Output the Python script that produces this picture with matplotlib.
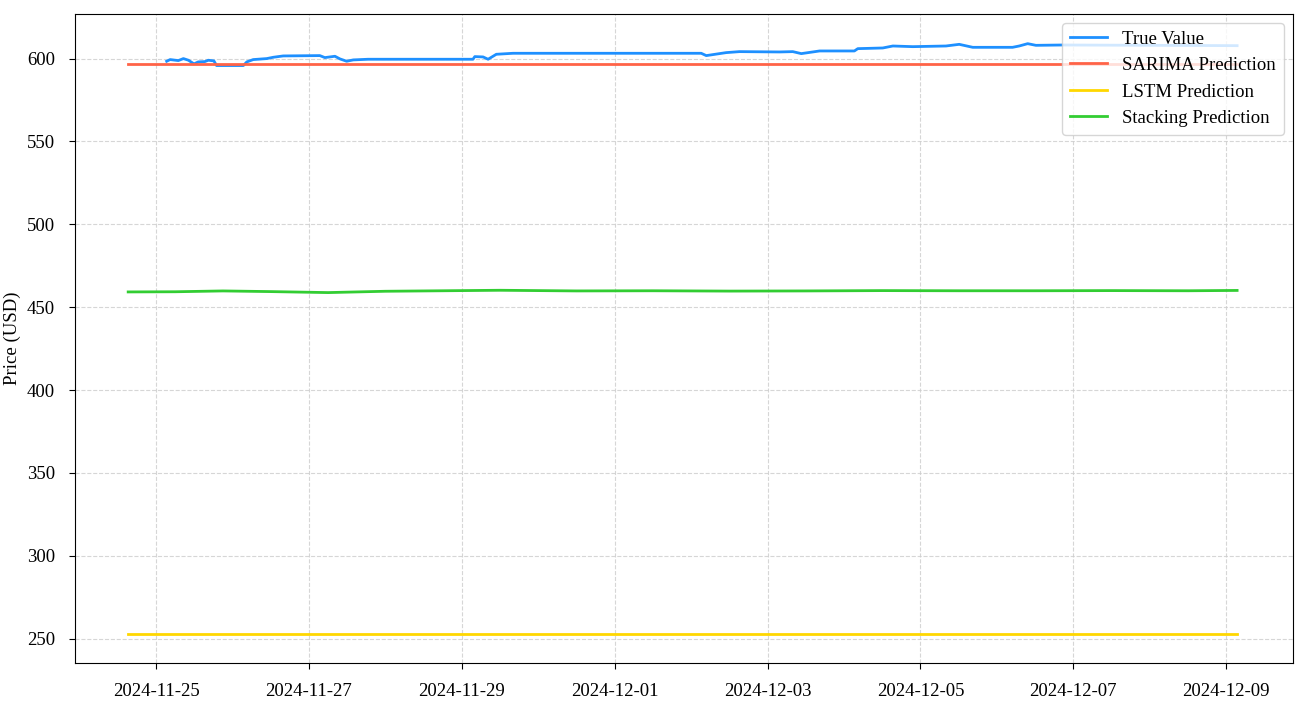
import pandas as pd
import matplotlib.pyplot as plt
import matplotlib.dates as mdates

plt.rcParams['font.family'] = ['Liberation Serif', 'DejaVu Serif']
plt.rcParams['font.size'] = 13.5

# true price
true_times = [
    "2024-11-25 03:20", "2024-11-25 04:25", "2024-11-25 07:00", "2024-11-25 08:35",
    "2024-11-25 10:10", "2024-11-25 11:55", "2024-11-25 13:15", "2024-11-25 15:20",
    "2024-11-25 16:25", "2024-11-25 18:10", "2024-11-25 19:00", "2024-11-26 03:25",
    "2024-11-26 04:30", "2024-11-26 06:30", "2024-11-26 10:45", "2024-11-26 12:50",
    "2024-11-26 15:55", "2024-11-27 03:25", "2024-11-27 05:00", "2024-11-27 08:10",
    "2024-11-27 09:45", "2024-11-27 11:50", "2024-11-27 13:55", "2024-11-27 18:35",
    "2024-11-29 03:30", "2024-11-29 04:05", "2024-11-29 06:40", "2024-11-29 08:15",
    "2024-11-29 10:50", "2024-11-29 16:05", "2024-12-02 03:10", "2024-12-02 04:45",
    "2024-12-02 11:00", "2024-12-02 15:10", "2024-12-03 03:45", "2024-12-03 07:55",
    "2024-12-03 10:35", "2024-12-03 16:20", "2024-12-04 03:15", "2024-12-04 04:20",
    "2024-12-04 12:10", "2024-12-04 15:20", "2024-12-04 21:35", "2024-12-05 08:00",
    "2024-12-05 12:10", "2024-12-05 16:25", "2024-12-06 04:55", "2024-12-06 07:00",
    "2024-12-06 09:40", "2024-12-06 12:15", "2024-12-06 20:35", "2024-12-09 03:25",
]
true_vals = [
    598.4, 599.4, 598.8, 600.0, 599.0, 596.8, 598.0, 598.2,
    599.0, 598.6, 595.8, 595.8, 598.0, 599.4, 600.0, 600.8,
    601.6, 601.8, 600.6, 601.4, 599.8, 598.4, 599.2, 599.6,
    599.6, 601.2, 601.0, 599.6, 602.6, 603.2, 603.2, 601.8,
    603.6, 604.2, 604.0, 604.2, 603.0, 604.6, 604.6, 606.0,
    606.4, 607.6, 607.2, 607.6, 608.6, 606.8, 606.8, 607.6,
    609.0, 608.0, 608.2, 607.8,
]

# model predictions
pred_times = [
    "2024-11-24 15:15", "2024-11-25 06:00", "2024-11-25 21:00", "2024-11-26 12:00",
    "2024-11-27 06:00", "2024-11-28 00:00", "2024-11-28 18:00", "2024-11-29 12:00",
    "2024-11-30 12:00", "2024-12-01 12:00", "2024-12-02 12:00", "2024-12-03 12:00",
    "2024-12-04 12:00", "2024-12-05 12:00", "2024-12-06 12:00", "2024-12-07 12:00",
    "2024-12-08 12:00", "2024-12-09 03:25",
]
sarima_vals = [597.0] * len(pred_times)
lstm_vals = [253.0] * len(pred_times)
stacking_vals = [
    459.2, 459.3, 459.8, 459.4, 458.8, 459.6, 459.9, 460.2,
    459.8, 459.9, 459.7, 459.8, 460.0, 459.9, 459.9, 460.0,
    459.9, 460.1,
]

true_t = pd.to_datetime(true_times)
pred_t = pd.to_datetime(pred_times)

fig = plt.figure(figsize=(13.12, 7.11), dpi=100)
ax = fig.add_axes([0.0572, 0.068, 0.9284, 0.913])

ax.plot(true_t, true_vals, color="#1E90FF", linewidth=2, label="True Value")
ax.plot(pred_t, sarima_vals, color="#FF6347", linewidth=2, label="SARIMA Prediction")
ax.plot(pred_t, lstm_vals, color="#FFD700", linewidth=2, label="LSTM Prediction")
ax.plot(pred_t, stacking_vals, color="#32CD32", linewidth=2, label="Stacking Prediction")

ax.set_ylim(235.5, 627.2)
ax.set_yticks(range(250, 601, 50))
ax.set_xticks(pd.date_range("2024-11-25", "2024-12-09", freq="2D"))
ax.xaxis.set_major_formatter(mdates.DateFormatter("%Y-%m-%d"))
ax.set_xlim(pd.Timestamp("2024-11-23 22:34"), pd.Timestamp("2024-12-09 21:00"))
ax.tick_params(axis="both", length=4.5, pad=10)

ax.set_ylabel("Price (USD)")
ax.grid(True, linestyle="--", color="#cccccc", alpha=0.8)
ax.legend(loc="upper right", fontsize=13.5)

fig.savefig("out.png", dpi=100)
